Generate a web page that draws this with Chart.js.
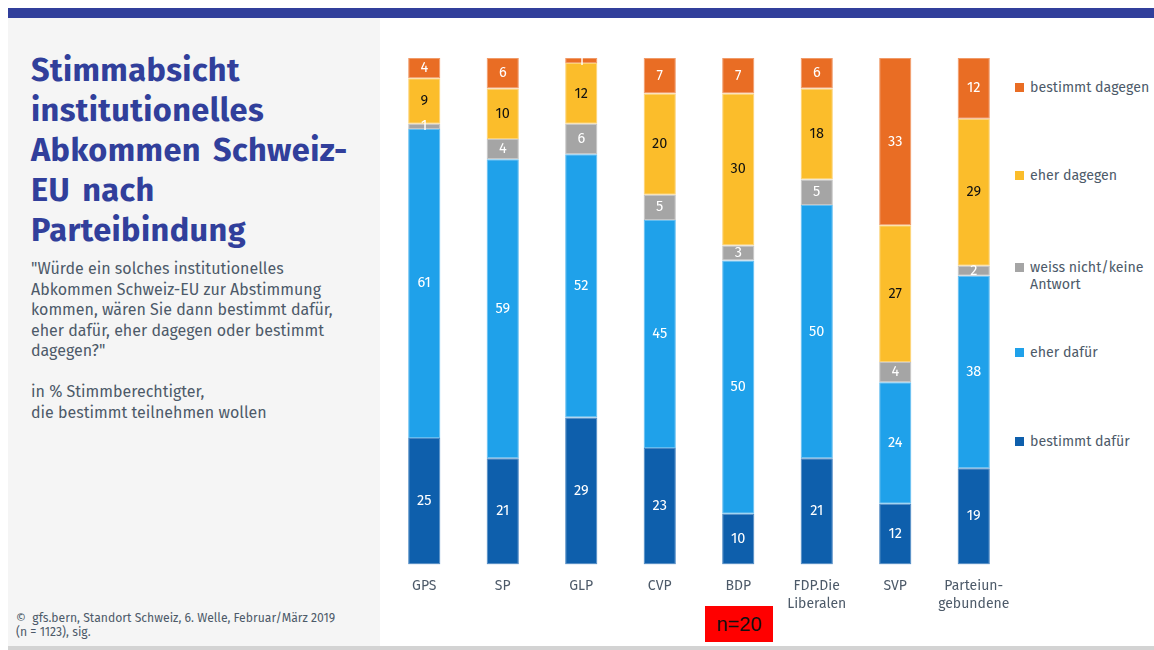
<!DOCTYPE html>
<html>
<head>
<meta charset="utf-8">
<script src="https://cdn.jsdelivr.net/npm/chart.js@4/dist/chart.umd.min.js"></script>
<style>
  html, body { margin:0; padding:0; background:#fff; width:1154px; height:650px; overflow:hidden; }
  body { position:relative; font-family:"Fira Sans","Open Sans","Noto Sans",sans-serif; }
  #topbar { position:absolute; left:8px; top:8px; width:1146px; height:10px; background:#313f9b; }
  #panel { position:absolute; left:8px; top:18px; width:372px; height:628px; background:#f5f5f5; }
  #bottomline { position:absolute; left:8px; top:646px; width:1146px; height:4px; background:#d3d3d3; }
  #title { position:absolute; left:31px; top:51px; color:#313f9b; font-weight:bold; font-size:32.5px; line-height:40px; letter-spacing:0.4px; word-spacing:4px; }
  #sub { position:absolute; left:31px; top:259px; color:#4d5a69; font-size:16px; line-height:20.5px; }
  #foot { position:absolute; left:16px; top:611px; color:#4d5a69; font-size:12.2px; line-height:14px; }
  #nbox { position:absolute; left:705px; top:606px; width:68px; height:36px; background:#ff0000; color:#111; font-family:"Liberation Sans",Arial,sans-serif; font-size:20px; line-height:36px; text-align:center; }
  .leg { position:absolute; left:1015px; color:#4d5a69; font-size:14.2px; line-height:17px; }
  .leg .sw { position:absolute; left:0; top:4px; width:9px; height:9px; }
  .leg .tx { position:absolute; left:15px; top:0; white-space:nowrap; }
  canvas { position:absolute; left:0; top:0; }
</style>
</head>
<body>
<div id="topbar"></div>
<div id="panel"></div>
<div id="bottomline"></div>
<div id="title">Stimmabsicht<br>institutionelles<br>Abkommen Schweiz-<br>EU nach<br>Parteibindung</div>
<div id="sub">"Würde ein solches institutionelles<br>Abkommen Schweiz-EU zur Abstimmung<br>kommen, wären Sie dann bestimmt dafür,<br>eher dafür, eher dagegen oder bestimmt<br>dagegen?"<br><br>in % Stimmberechtigter,<br>die bestimmt teilnehmen wollen</div>
<div id="foot">©&nbsp; gfs.bern, Standort Schweiz, 6. Welle, Februar/März 2019<br>(n = 1123), sig.</div>
<div id="nbox">n=20</div>
<div id="legend"></div>
<canvas id="c" width="1154" height="650"></canvas>
<script>
const categories = [["GPS"], ["SP"], ["GLP"], ["CVP"], ["BDP"], ["FDP.Die", "Liberalen"], ["SVP"], ["Parteiun-", "gebundene"]];
const seriesNames = ["bestimmt dafür", "eher dafür", "weiss nicht/keine Antwort", "eher dagegen", "bestimmt dagegen"];
const bestimmtDafuer  = [25, 21, 29, 23, 10, 21, 12, 19];
const eherDafuer      = [61, 59, 52, 45, 50, 50, 24, 38];
const weissNicht      = [1, 4, 6, 5, 3, 5, 4, 2];
const eherDagegen     = [9, 10, 12, 20, 30, 18, 27, 29];
const bestimmtDagegen = [4, 6, 1, 7, 7, 6, 33, 12];
const colors = ["#0e5fac", "#1fa1ea", "#a5a5a5", "#fbbd2b", "#e96d24"];
const labelColors = ["#ffffff", "#ffffff", "#ffffff", "#111111", "#ffffff"];
const borderColors = ["#4a86c2", "#63bdf0", "#c4c4c4", "#fcd275", "#f09a68"];

const values = [bestimmtDafuer, eherDafuer, weissNicht, eherDagegen, bestimmtDagegen];

// HTML legend (top to bottom: reverse stack order)
const legendPos = [433, 344, 259, 167, 79];
const legendLabels = ["bestimmt dafür", "eher dafür", "weiss nicht/keine<br>Antwort", "eher dagegen", "bestimmt dagegen"];
const legEl = document.getElementById('legend');
for (let i = 0; i < 5; i++) {
  const d = document.createElement('div');
  d.className = 'leg';
  d.style.top = legendPos[i] + 'px';
  d.innerHTML = '<span class="sw" style="background:' + colors[i] + '"></span><span class="tx">' + legendLabels[i] + '</span>';
  legEl.appendChild(d);
}

const valueLabels = {
  id: 'valueLabels',
  afterDatasetsDraw(chart) {
    const ctx = chart.ctx;
    ctx.save();
    ctx.font = '14.5px "Fira Sans", "Open Sans", "Noto Sans", sans-serif';
    ctx.textAlign = 'center';
    ctx.textBaseline = 'middle';
    chart.data.datasets.forEach((ds, di) => {
      const meta = chart.getDatasetMeta(di);
      meta.data.forEach((el, i) => {
        const v = ds.data[i];
        if (v == null) return;
        ctx.fillStyle = labelColors[di];
        ctx.fillText(String(v), el.x, (el.y + el.base) / 2);
      });
    });
    ctx.restore();
  }
};

new Chart(document.getElementById('c'), {
  type: 'bar',
  data: {
    labels: categories,
    datasets: values.map((arr, i) => ({
      label: seriesNames[i],
      data: arr,
      backgroundColor: colors[i],
      borderColor: borderColors[i],
      borderWidth: 1,
      borderSkipped: false,
      barPercentage: 0.41,
      categoryPercentage: 1.0
    }))
  },
  options: {
    responsive: false,
    animation: false,
    events: [],
    layout: { padding: { left: 385, right: 141, top: 58, bottom: 0 } },
    plugins: { legend: { display: false }, tooltip: { enabled: false } },
    scales: {
      x: {
        stacked: true,
        grid: { display: false, drawTicks: false },
        border: { display: false },
        ticks: {
          color: '#4d5a69',
          font: { size: 14, family: '"Fira Sans", "Open Sans", "Noto Sans", sans-serif', lineHeight: 1.3 },
          padding: 12,
          maxRotation: 0,
          autoSkip: false
        },
        afterFit: (scale) => { scale.height = 85.5; }
      },
      y: {
        stacked: true,
        display: false,
        min: 0,
        max: 100
      }
    }
  },
  plugins: [valueLabels]
});
</script>
</body>
</html>
